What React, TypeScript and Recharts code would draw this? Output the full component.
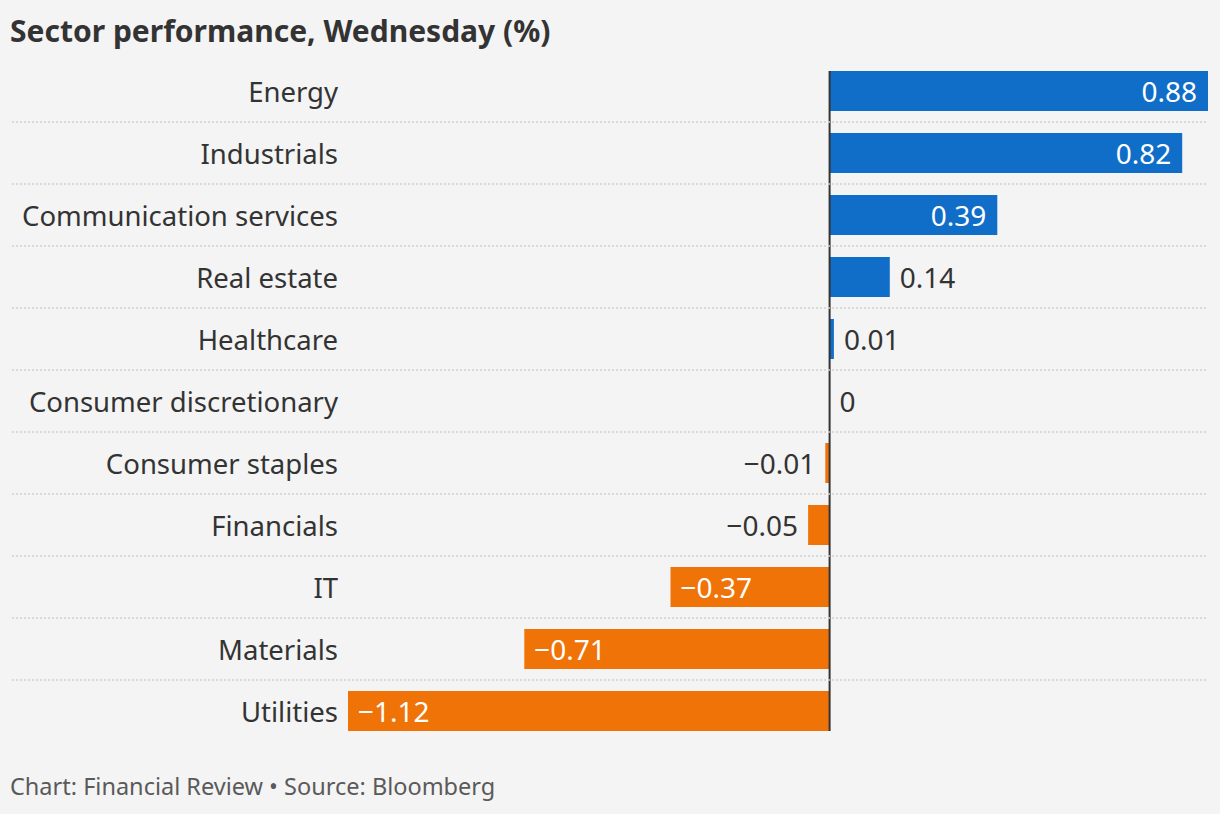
import { Bar, BarChart, Cell, LabelList, ReferenceLine, XAxis, YAxis } from "recharts"

// sectors, top to bottom
const sectors = [
  "Energy",
  "Industrials",
  "Communication services",
  "Real estate",
  "Healthcare",
  "Consumer discretionary",
  "Consumer staples",
  "Financials",
  "IT",
  "Materials",
  "Utilities",
]

// daily change, %
const changes = [0.88, 0.82, 0.39, 0.14, 0.01, 0, -0.01, -0.05, -0.37, -0.71, -1.12]

const xDomain = [-1.12, 0.88]

const data = sectors.map((name, i) => ({ name, value: changes[i] }))

const FONT = "'Noto Sans', sans-serif"
const BLUE = "#106ec8"
const ORANGE = "#f07308"
const TEXT = "#333333"
const ROW_H = 62
const BAR_H = 40

const fmt = (v: number) => {
  if (v === 0) return "0"
  const s = Math.abs(v).toFixed(2)
  return v < 0 ? "\u2212" + s : s
}

function SectorTick(props: any) {
  const { y, payload, index } = props
  return (
    <g>
      <text x={338} y={y} textAnchor="end" dominantBaseline="central" fill={TEXT} fontSize={27.5} fontFamily={FONT}>
        {payload.value}
      </text>
      {index < sectors.length - 1 && (
        <line x1={12} x2={1208} y1={y + ROW_H / 2} y2={y + ROW_H / 2} stroke="#cfcfcf" strokeWidth={1.5} strokeDasharray="2 2" />
      )}
    </g>
  )
}

function ValueLabel(props: any) {
  const { x, y, width, height, value } = props
  const v = Number(value)
  const left = Math.min(x, x + width)
  const right = Math.max(x, x + width)
  const w = right - left
  const cy = y + height / 2
  const inside = w > 100
  let tx = right + 10
  let anchor: "start" | "end" = "start"
  if (v < 0) {
    tx = inside ? left + 10 : left - 10
    anchor = inside ? "start" : "end"
  } else {
    tx = inside ? right - 11 : right + 10
    anchor = inside ? "end" : "start"
  }
  return (
    <text x={tx} y={cy} textAnchor={anchor} dominantBaseline="central" fill={inside ? "#ffffff" : TEXT} fontSize={28} fontFamily={FONT}>
      {fmt(v)}
    </text>
  )
}

function ZeroLine(props: any) {
  const { x1, x2, y1, y2 } = props
  const inset = (ROW_H - BAR_H) / 2
  return <line x1={x1} x2={x2} y1={Math.min(y1, y2) + inset} y2={Math.max(y1, y2) - inset} stroke="#333333" strokeWidth={2} />
}

export default function App() {
  return (
    <div style={{ position: "absolute", left: 0, top: 0, width: 1220, height: 814, background: "#f4f4f4", fontFamily: FONT }}>
      <div style={{ position: "absolute", left: 10, top: 10, fontSize: 30, fontWeight: 700, color: TEXT }}>
        Sector performance, Wednesday (%)
      </div>
      <div style={{ position: "absolute", left: 0, top: 0 }}>
        <BarChart
          width={1220}
          height={760}
          data={data}
          layout="vertical"
          margin={{ top: 60, right: 12, bottom: 18, left: 0 }}
          barSize={BAR_H}
        >
          <XAxis type="number" domain={xDomain} allowDataOverflow hide />
          <YAxis type="category" dataKey="name" width={348} axisLine={false} tickLine={false} tick={<SectorTick />} interval={0} />
          <Bar dataKey="value" isAnimationActive={false} minPointSize={0.01}>
            {data.map((d) => (
              <Cell key={d.name} fill={d.value >= 0 ? BLUE : ORANGE} />
            ))}
            <LabelList dataKey="value" content={<ValueLabel />} />
          </Bar>
          <ReferenceLine x={0} stroke="#333333" shape={<ZeroLine />} />
        </BarChart>
      </div>
      <div style={{ position: "absolute", left: 10, top: 770, fontSize: 23.5, color: "#5a5a5a" }}>
        Chart: Financial Review • Source: Bloomberg
      </div>
    </div>
  )
}
